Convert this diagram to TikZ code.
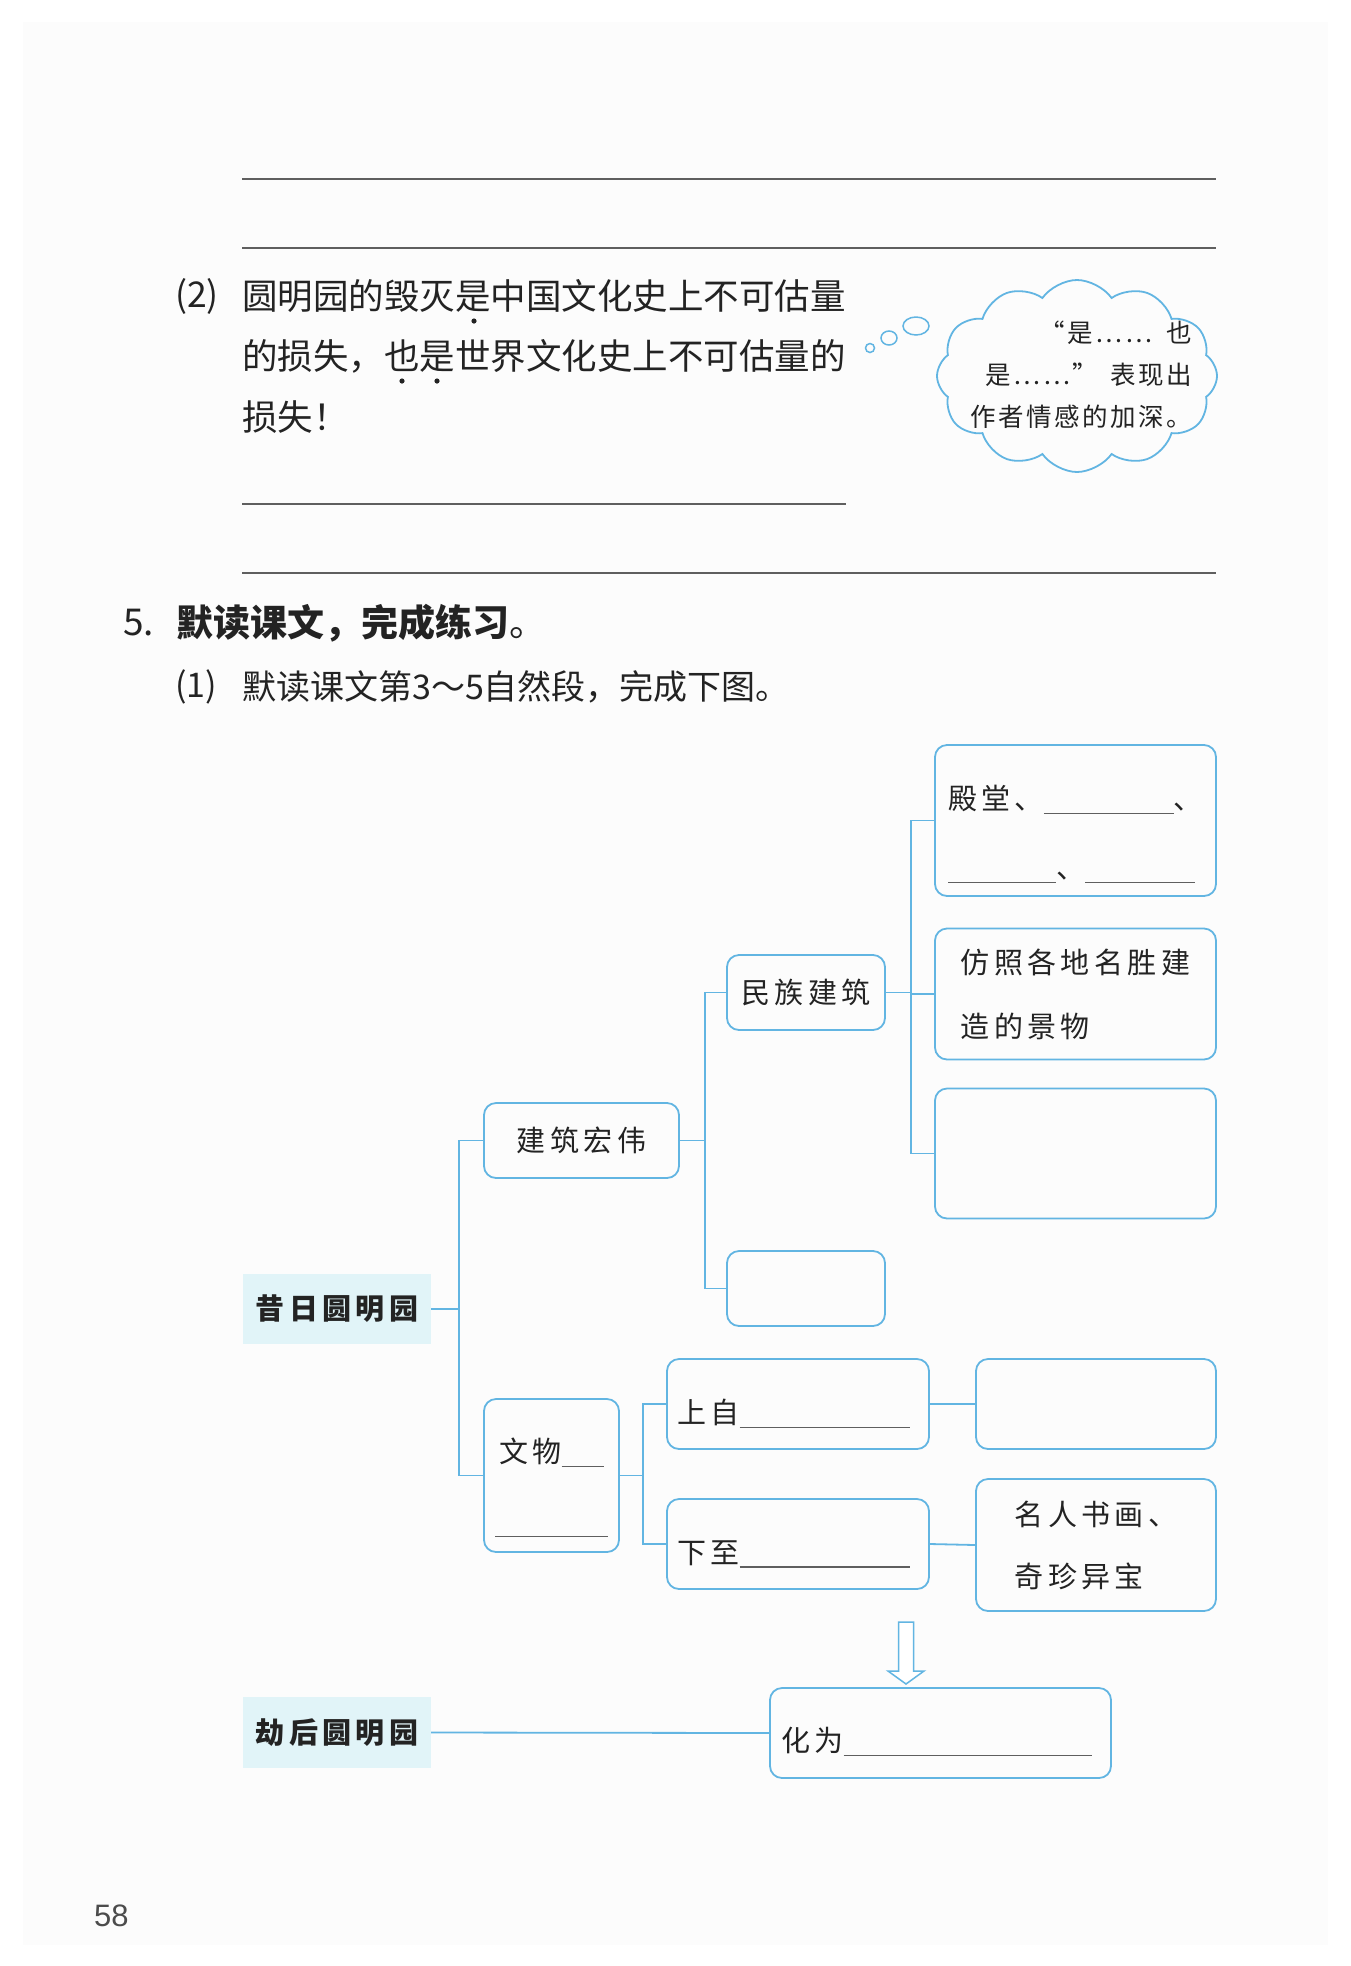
\documentclass[tikz,border=0pt]{standalone}
\usepackage{fontspec}
\usepackage{tikz}
\usetikzlibrary{positioning,calc,shapes.symbols}
\setmainfont{Noto Sans CJK SC}
\newfontfamily\cjkwide[LetterSpace=15]{Noto Sans CJK SC}
\newfontfamily\cjktip[LetterSpace=10]{Noto Sans CJK SC}
\newfontfamily\pagenumfont{Liberation Sans}
\definecolor{lineblue}{RGB}{98,181,226}
\definecolor{hlcyan}{RGB}{225,244,248}
\definecolor{rulegray}{RGB}{95,95,95}
\definecolor{pagegray}{RGB}{252,252,252}
\definecolor{ink}{RGB}{35,35,35}
\newcommand{\dgfont}{\cjkwide\fontsize{29}{64}\selectfont}
\newcommand{\blankln}[1]{\textcolor{rulegray}{\rule[-4.5pt]{#1pt}{1.4pt}}}

\begin{document}
\begin{tikzpicture}[x=1pt,y=-1pt,
  box/.style={draw=lineblue,line width=1.8pt,rounded corners=12pt,inner sep=0pt,align=left,font=\dgfont,text=ink},
  hl/.style={fill=hlcyan,inner sep=0pt,minimum width=188pt,font=\dgfont\bfseries,text=ink},
  link/.style={draw=lineblue,line width=1.8pt},
  blankrule/.style={draw=rulegray,line width=1.3pt},
  txt/.style={inner sep=0pt,text=ink}]
\useasboundingbox (0,0) rectangle (1350,1966);
\fill[pagegray] (23,22) rectangle (1328,1945);

% answer lines of question (1)
\draw[blankrule] (242,179) -- (1216,179);
\draw[blankrule] (242,248) -- (1216,248);

% question (2)
\node[txt,anchor=west,font=\fontsize{35.5}{42}\selectfont] (q2) at (175,296) {(2)};
\node[txt,anchor=west,font=\fontsize{35.5}{42}\selectfont] (q2a) at (242,296) {圆明园的毁灭是中国文化史上不可估量};
\node[txt,anchor=west,font=\fontsize{35.5}{42}\selectfont] (q2b) at (242,356) {的损失，也是世界文化史上不可估量的};
\node[txt,anchor=west,font=\fontsize{35.5}{42}\selectfont] (q2c) at (242,417) {损失！};
\fill[ink] (474,321) circle (2.6);
\fill[ink] (402,381) circle (2.6);
\fill[ink] (437,381) circle (2.6);
\draw[blankrule] (242,504) -- (846,504);
\draw[blankrule] (242,573) -- (1216,573);

% thought cloud
\node[cloud,draw=lineblue,line width=1.8pt,cloud puffs=12,cloud puff arc=110,cloud ignores aspect,
      minimum width=280pt,minimum height=192pt,inner sep=0pt] (tip) at (1077,376) {};
\node[txt,align=right,font=\cjktip\fontsize{25.5}{42}\selectfont] (tip-t) at (1081,375)
      {“是……\hspace{14pt}也\\是……”\hspace{12pt}表现出\\作者情感的加深。};
\draw[lineblue,line width=1.5pt] (870,348) circle (4.5) (889,338) ellipse (8 and 7) (916,326) ellipse (13 and 9);

% task 5
\node[txt,anchor=west,font=\fontsize{37}{42}\selectfont] (t5) at (123,623) {5.};
\node[txt,anchor=west,font=\fontsize{37}{42}\selectfont] (t5a) at (176,623) {{\bfseries 默读课文，完成练习}。};
\node[txt,anchor=west,font=\fontsize{34}{42}\selectfont] (t51) at (175,687) {(1)};
\node[txt,anchor=west,font=\fontsize{34}{42}\selectfont] (t51a) at (242,687) {默读课文第3～5自然段，完成下图。};

% diagram boxes
\node[hl,minimum height=70pt] (xiri) at (337,1309) {昔日圆明园};
\node[box,minimum width=195pt,minimum height=75pt,align=center] (jzhw) at (581.5,1140.5) {建筑宏伟};
\node[box,minimum width=158pt,minimum height=75pt,align=center] (mzjz) at (806,992.5) {民族建筑};
\node[box,minimum width=158pt,minimum height=75pt] (kong2) at (806,1288.5) {};
\node[box,minimum width=281pt,minimum height=151pt] (dt) at (1075.5,820.5) {};
\node[txt,align=left,font=\cjkwide\fontsize{29}{69}\selectfont] (dt-t) at ([yshift=-14pt]dt.center)
  {殿堂、\blankln{130}、\\\blankln{108}、\blankln{110}};
\node[box,minimum width=281pt,minimum height=131pt] (fz) at (1075.5,994) {仿照各地名胜建\\造的景物};
\node[box,minimum width=281pt,minimum height=130pt] (kong1) at (1075.5,1153.5) {};
\node[box,minimum width=135pt,minimum height=153pt] (wenwu) at (551.5,1475.5) {};
\node[txt,align=center,font=\cjkwide\fontsize{29}{70}\selectfont] (wenwu-t) at ([yshift=-12pt]wenwu.center)
  {文物\blankln{42}\\\blankln{113}};
\node[box,minimum width=262pt,minimum height=90pt] (shangzi) at (798,1404) {};
\node[txt,anchor=west,font=\dgfont] (shangzi-t) at ([xshift=11pt,yshift=-10pt]shangzi.west) {上自\blankln{170}};
\node[box,minimum width=262pt,minimum height=90pt] (xiazhi) at (798,1544) {};
\node[txt,anchor=west,font=\dgfont] (xiazhi-t) at ([xshift=11pt,yshift=-10pt]xiazhi.west) {下至\blankln{170}};
\node[box,minimum width=240pt,minimum height=90pt] (kong3) at (1096,1404) {};
\node[box,minimum width=240pt,minimum height=132pt] (mrsh) at (1096,1545) {名人书画、\\[-2pt]奇珍异宝};
\node[hl,minimum height=71pt] (jiehou) at (337,1732.5) {劫后圆明园};
\node[box,minimum width=341pt,minimum height=90pt] (huawei) at (940.5,1733) {};
\node[txt,anchor=west,font=\dgfont] (huawei-t) at ([xshift=12pt,yshift=-9pt]huawei.west) {化为\blankln{248}};

% connectors
\draw[link] (xiri.east) -- ++(28,0) |- (jzhw.west);
\draw[link] (xiri.east) -- ++(28,0) |- (wenwu.west);
\draw[link] (jzhw.east) -- ++(25,0) |- (mzjz.west);
\draw[link] (jzhw.east) -- ++(25,0) |- (kong2.west);
\draw[link] (mzjz.east) -- ++(25,0) |- (dt.west);
\draw[link] (mzjz.east) -- ++(25,0) |- (fz.west);
\draw[link] (mzjz.east) -- ++(25,0) |- (kong1.west);
\draw[link] (wenwu.east) -- ++(23,0) |- (shangzi.west);
\draw[link] (wenwu.east) -- ++(23,0) |- (xiazhi.west);
\draw[link] (shangzi.east) -- (kong3.west);
\draw[link] (xiazhi.east) -- (mrsh.west);
\draw[link] (jiehou.east) -- (huawei.west);

% hollow arrow down to huawei
\draw[lineblue,line width=1.5pt,fill=white] (898.5,1622) -- (898.5,1671) -- (888,1671) -- (906,1684)
  -- (924,1671) -- (913.5,1671) -- (913.5,1622) -- cycle;

% page number
\node[txt,anchor=west,font=\pagenumfont\fontsize{31}{36}\selectfont,text=black!70] (pnum) at (94,1916) {58};
\end{tikzpicture}
\end{document}
